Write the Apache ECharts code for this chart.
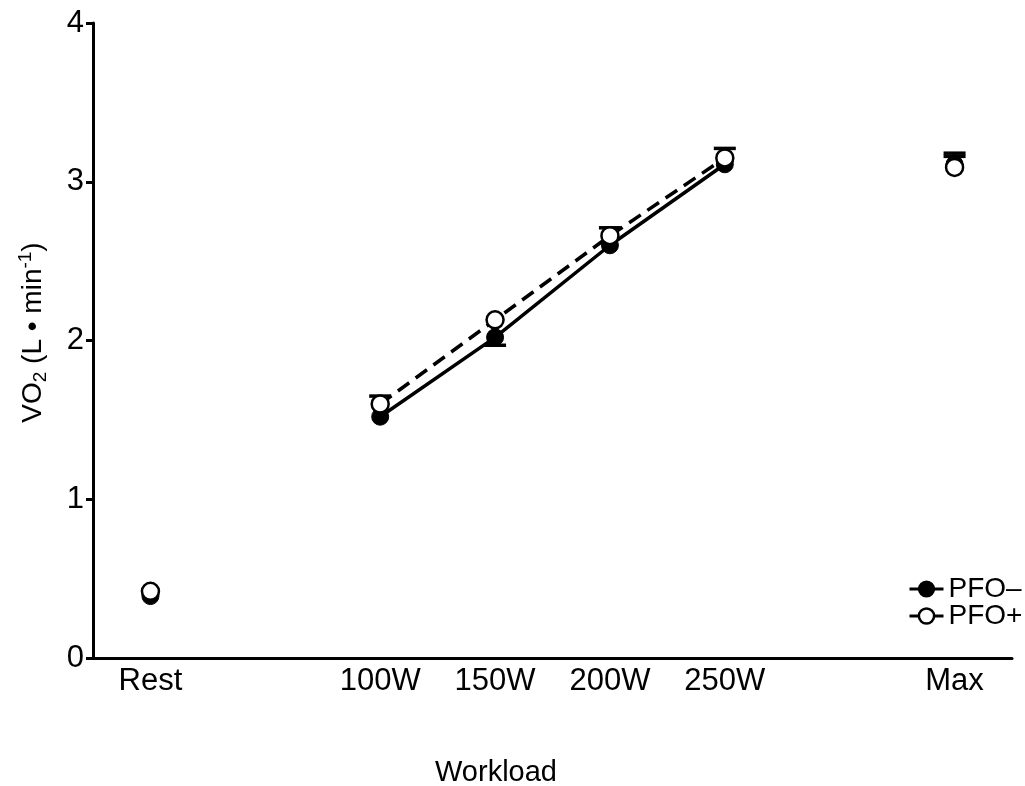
<!DOCTYPE html>
<html>
<head>
<meta charset="utf-8">
<script src="https://cdn.jsdelivr.net/npm/echarts@6/dist/echarts.min.js"></script>
<style>
  html, body { margin: 0; padding: 0; background: #fff; }
  #chart { width: 1025px; height: 786px; }
</style>
</head>
<body>
<div id="chart"></div>
<script>
// ---------------------------------------------------
// Datos
// ---------------------------------------------------
const categories = ['Rest', '', '100W', '150W', '200W', '250W', '', 'Max'];
const pfoMinus = [0.39, null, 1.52, 2.02, 2.60, 3.11, null, 3.11];
const pfoPlus  = [0.42, null, 1.60, 2.13, 2.66, 3.15, null, 3.09];
// extremo de la barra de error (solo donde se ve)
const pfoMinusErrEnd = [null, null, null, 1.97, null, null, null, 3.16];
const pfoPlusErrEnd  = [null, null, 1.65, null, 2.71, 3.21, null, 3.18];

const font = 'Liberation Sans, Arial, sans-serif';

const chart = echarts.init(document.getElementById('chart'));

// barras de error como serie custom
const errorSeries = (name, means, ends) => ({
  type: 'custom',
  name: name + '-err',
  z: 1,
  silent: true,
  data: means.map((m, i) => [i, m, ends[i]]).filter(d => d[1] != null && d[2] != null),
  renderItem: function (params, api) {
    const p0 = api.coord([api.value(0), api.value(1)]);
    const p1 = api.coord([api.value(0), api.value(2)]);
    const hw = 11;
    return {
      type: 'group',
      children: [
        { type: 'line', shape: { x1: p0[0], y1: p0[1], x2: p1[0], y2: p1[1] },
          style: { stroke: '#000', lineWidth: 3 } },
        { type: 'line', shape: { x1: p1[0] - hw, y1: p1[1], x2: p1[0] + hw, y2: p1[1] },
          style: { stroke: '#000', lineWidth: 3.5 } }
      ]
    };
  }
});

const option = {
  animation: false,
  backgroundColor: '#fff',
  textStyle: { fontFamily: font, color: '#000' },
  grid: { left: 93, right: 13, top: 23, bottom: 128, containLabel: false, outerBoundsMode: 'none' },
  legend: {
    orient: 'vertical',
    left: 903,
    top: 570,
    itemWidth: 34,
    itemHeight: 19,
    itemGap: -1,
    textStyle: { fontFamily: font, fontSize: 28, color: '#000', lineHeight: 22, padding: [0, 0, 0, 0] },
    data: [
      { name: 'PFO–', itemStyle: { color: '#000', borderColor: '#000' }, lineStyle: { type: 'solid', width: 3 } },
      { name: 'PFO+', itemStyle: { color: '#fff', borderColor: '#000', borderWidth: 2.5 }, lineStyle: { type: 'solid', width: 3 } }
    ]
  },
  xAxis: {
    type: 'category',
    data: categories,
    boundaryGap: true,
    name: 'Workload',
    nameLocation: 'middle',
    nameGap: 100,
    nameTextStyle: { fontFamily: font, fontSize: 29, color: '#000', padding: [0, 113, 0, 0] },
    axisLine: { lineStyle: { color: '#000', width: 3 } },
    axisTick: {
      alignWithLabel: true,
      length: 8,
      lineStyle: { color: '#000', width: 3 },
      interval: (idx, val) => val !== ''
    },
    axisLabel: { interval: 0, fontFamily: font, fontSize: 31, color: '#000', margin: 8 },
    splitLine: { show: false }
  },
  yAxis: {
    type: 'value',
    min: 0,
    max: 4,
    interval: 1,
    name: '{n|VO}{sub|2}{n| (L • min}{sup|-1}{n|)}',
    nameLocation: 'middle',
    nameGap: 43,
    nameTextStyle: {
      fontFamily: font, color: '#000',
      padding: [0, 0, 0, 16],
      rich: {
        n: { fontFamily: font, fontSize: 28, color: '#000', lineHeight: 34, verticalAlign: 'middle' },
        sub: { fontFamily: font, fontSize: 19, color: '#000', lineHeight: 34, padding: [16, 0, 0, 0] },
        sup: { fontFamily: font, fontSize: 19, color: '#000', lineHeight: 34, padding: [0, 0, 14, 0] }
      }
    },
    axisLine: { show: true, lineStyle: { color: '#000', width: 3 } },
    axisTick: { show: true, length: 7, lineStyle: { color: '#000', width: 3 } },
    axisLabel: { fontFamily: font, fontSize: 31, color: '#000', margin: 9 },
    splitLine: { show: false }
  },
  series: [
    errorSeries('PFO–', pfoMinus, pfoMinusErrEnd),
    errorSeries('PFO+', pfoPlus, pfoPlusErrEnd),
    {
      name: 'PFO–',
      type: 'line',
      z: 3,
      data: pfoMinus,
      connectNulls: false,
      symbol: 'circle',
      symbolSize: 17,
      lineStyle: { color: '#000', width: 3.5, type: 'solid' },
      itemStyle: { color: '#000', borderColor: '#000', borderWidth: 1 }
    },
    {
      name: 'PFO+',
      type: 'line',
      z: 4,
      data: pfoPlus,
      connectNulls: false,
      symbol: 'circle',
      symbolSize: 17,
      lineStyle: { color: '#000', width: 3.5, type: [14, 8] },
      itemStyle: { color: '#fff', borderColor: '#000', borderWidth: 2.5 }
    }
  ]
};

chart.setOption(option);
</script>
</body>
</html>
